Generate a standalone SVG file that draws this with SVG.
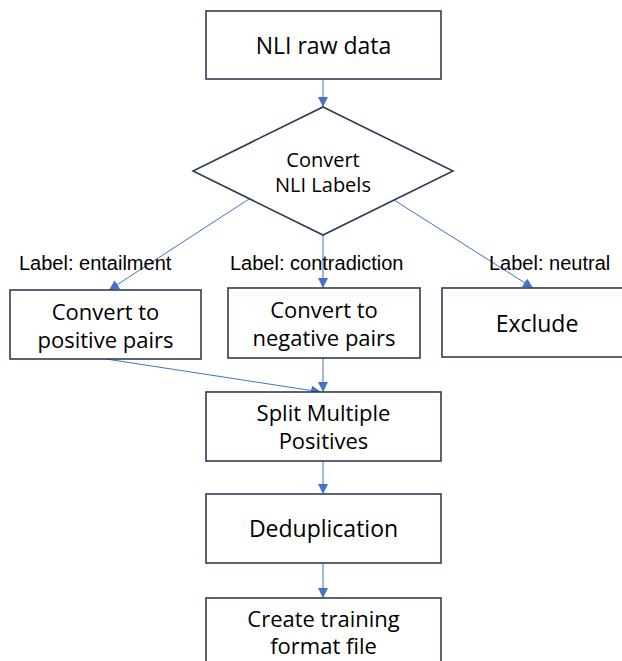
<svg xmlns="http://www.w3.org/2000/svg" width="622" height="661" viewBox="0 0 622 661">
<style>
.box{fill:#ffffff;stroke:#2f3c56;stroke-width:1.6}
.t{font-family:"Open Sans","Noto Sans",sans-serif;font-size:23px;fill:#000;text-anchor:middle}
.t2{font-family:"Open Sans","Noto Sans",sans-serif;font-size:22px;fill:#000;text-anchor:middle}
.td{font-family:"Open Sans","Noto Sans",sans-serif;font-size:20px;fill:#000;text-anchor:middle}
.lb{font-family:"Liberation Sans",Arial,sans-serif;font-size:20px;fill:#000}
.c{stroke:#4472c4;stroke-width:1;fill:none;marker-end:url(#ah)}
</style>
<defs>
<marker id="ah" viewBox="0 0 10 10" refX="10" refY="5" markerWidth="10" markerHeight="10" markerUnits="userSpaceOnUse" orient="auto">
<path d="M0,0 L10,5 L0,10 z" fill="#4472c4"/>
</marker>
</defs>
<rect width="622" height="661" fill="#ffffff"/>
<g id="connectors">
<line class="c" x1="323" y1="80" x2="323" y2="107"/>
<line class="c" x1="249" y1="199" x2="109" y2="290"/>
<line class="c" x1="323" y1="235" x2="323" y2="288"/>
<line class="c" x1="394" y1="200" x2="533" y2="288"/>
<line class="c" x1="106" y1="359" x2="321" y2="392"/>
<line class="c" x1="323" y1="358" x2="323" y2="392"/>
<line class="c" x1="323" y1="461" x2="323" y2="494"/>
<line class="c" x1="323" y1="563" x2="323" y2="598"/>
</g>
<g id="labels">
<text class="lb" x="19" y="270">Label: entailment</text>
<text class="lb" x="230" y="270">Label: contradiction</text>
<text class="lb" x="489" y="270">Label: neutral</text>
</g>
<g id="raw">
<rect class="box" x="206" y="11" width="235" height="68"/>
<text class="t" x="323.5" y="54">NLI raw data</text>
</g>
<g id="decision">
<polygon class="box" points="323,107 453,171 323,235 193,171"/>
<text class="td" x="323" y="167">Convert</text>
<text class="td" x="323" y="192">NLI Labels</text>
</g>
<g id="positive">
<rect class="box" x="10" y="290" width="191" height="69"/>
<text class="t2" x="105.5" y="320">Convert to</text>
<text class="t2" x="105.5" y="348">positive pairs</text>
</g>
<g id="negative">
<rect class="box" x="228" y="288" width="192" height="70"/>
<text class="t2" x="324" y="318">Convert to</text>
<text class="t2" x="324" y="346">negative pairs</text>
</g>
<g id="exclude">
<rect class="box" x="442" y="288" width="192" height="69"/>
<text class="t" x="537" y="332">Exclude</text>
</g>
<g id="split">
<rect class="box" x="206" y="392" width="235" height="69"/>
<text class="t2" x="323.5" y="421">Split Multiple</text>
<text class="t2" x="323.5" y="449">Positives</text>
</g>
<g id="dedup">
<rect class="box" x="206" y="494" width="235" height="69"/>
<text class="t" x="323.5" y="537">Deduplication</text>
</g>
<g id="create">
<rect class="box" x="206" y="598" width="235" height="80"/>
<text class="t2" x="323.5" y="627">Create training</text>
<text class="t2" x="323.5" y="654">format file</text>
</g>
</svg>
